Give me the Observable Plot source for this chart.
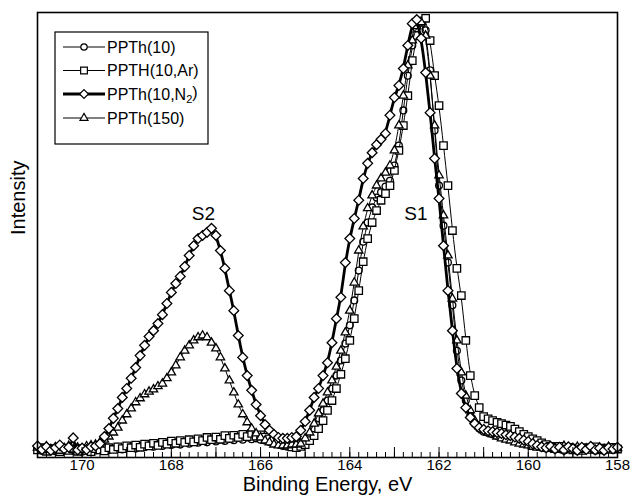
<!DOCTYPE html>
<html><head><meta charset="utf-8">
<script src="https://cdn.jsdelivr.net/npm/d3@7"></script>
<script src="https://cdn.jsdelivr.net/npm/@observablehq/plot@0.6"></script>
<style>body{margin:0;background:#fff}</style>
</head><body><div id="chart"></div>
<script>
const energy = [171.0,170.9,170.8,170.7,170.6,170.5,170.4,170.3,170.2,170.1,
170.0,169.9,169.8,169.7,169.6,169.5,169.4,169.3,169.2,169.1,
169.0,168.9,168.8,168.7,168.6,168.5,168.4,168.3,168.2,168.1,
168.0,167.9,167.8,167.7,167.6,167.5,167.4,167.3,167.2,167.1,
167.0,166.9,166.8,166.7,166.6,166.5,166.4,166.3,166.2,166.1,
166.0,165.9,165.8,165.7,165.6,165.5,165.4,165.3,165.2,165.1,
165.0,164.9,164.8,164.7,164.6,164.5,164.4,164.3,164.2,164.1,
164.0,163.9,163.8,163.7,163.6,163.5,163.4,163.3,163.2,163.1,
163.0,162.9,162.8,162.7,162.6,162.5,162.4,162.3,162.2,162.1,
162.0,161.9,161.8,161.7,161.6,161.5,161.4,161.3,161.2,161.1,
161.0,160.9,160.8,160.7,160.6,160.5,160.4,160.3,160.2,160.1,
160.0,159.9,159.8,159.7,159.6,159.5,159.4,159.3,159.2,159.1,
159.0,158.9,158.8,158.7,158.6,158.5,158.4,158.3,158.2,158.1,158.0];

const ppth10 = [2.1,1.5,2.3,1.7,1.4,2.0,1.6,2.2,1.5,1.9,
1.3,1.8,2.1,1.6,1.9,2.3,1.7,2.0,2.4,1.8,
2.2,2.5,2.0,2.6,2.3,2.8,2.4,3.0,2.6,3.1,
2.8,3.3,2.9,3.5,3.1,3.6,3.3,3.8,3.4,4.0,
3.6,4.1,3.7,4.2,3.9,4.4,4.0,4.5,4.1,4.3,
4.0,3.8,3.5,3.2,2.9,2.6,2.4,2.6,2.9,3.3,
3.8,4.9,6.5,8.8,10.6,12.8,15.5,18.4,21.8,25.6,
29.7,35.3,42.0,48.5,52.8,56.2,58.4,59.6,60.9,62.2,
65.6,70.1,78.0,85.8,92.6,96.4,98.2,96.0,87.0,73.5,
61.1,52.1,43.8,34.2,24.0,17.3,12.8,9.4,7.6,6.5,
5.8,5.5,5.2,4.9,4.7,4.5,4.3,3.9,3.6,3.2,
2.9,2.7,2.5,2.2,2.0,2.3,1.8,2.1,1.6,2.2,
1.9,1.5,2.0,1.7,2.2,1.6,2.0,1.5,1.9,1.7,2.0];

const ppthAr = [1.7,2.2,1.4,2.0,1.8,1.3,2.1,1.6,1.9,1.4,
2.0,1.6,1.3,2.0,1.7,1.5,2.2,1.8,2.4,2.0,
2.6,2.2,2.8,2.3,3.0,2.6,3.2,2.7,3.4,3.0,
3.7,3.2,3.8,3.4,4.0,3.5,4.2,3.8,4.5,4.0,
4.6,4.1,4.9,4.3,5.0,4.5,5.2,4.7,5.4,4.8,
5.1,4.6,4.2,3.9,3.4,3.0,2.7,2.4,2.2,2.5,
2.9,3.8,4.9,6.5,8.3,10.6,12.8,15.5,18.7,22.2,
26.3,31.2,37.5,44.0,49.2,52.8,55.5,57.8,59.3,61.1,
64.5,69.0,74.6,81.3,89.2,94.8,97.8,98.7,93.7,85.8,
79.1,70.1,61.1,51.0,42.5,36.4,26.3,18.4,13.9,11.2,
9.2,8.7,8.3,7.9,7.6,7.3,7.0,6.4,5.8,5.2,
4.7,4.2,3.8,3.3,2.9,2.5,2.2,2.5,1.9,2.3,
1.7,2.1,1.6,2.2,1.8,2.4,1.7,2.1,1.8,2.3,1.9];

const ppthN2 = [2.6,1.8,2.4,1.6,2.2,2.8,1.9,2.3,4.4,1.7,
2.1,1.8,2.4,2.6,3.1,4.7,6.5,8.8,11.0,13.5,
15.5,17.8,20.2,22.9,25.2,27.2,28.5,30.1,32.1,34.6,
37.1,39.1,40.7,42.9,45.4,47.6,49.2,49.9,50.6,51.5,
49.9,46.5,42.5,37.5,33.0,27.4,22.5,18.4,15.1,11.9,
9.4,7.4,6.1,5.2,4.5,4.3,4.3,4.5,4.7,6.1,
8.1,10.6,13.5,15.5,18.4,21.3,25.8,31.2,36.0,43.8,
49.2,53.7,57.8,62.7,66.1,68.5,70.3,71.5,72.8,76.9,
80.9,83.6,87.4,92.6,97.5,98.4,94.2,86.5,77.5,67.2,
58.2,47.6,37.5,28.5,20.0,14.4,11.2,9.0,7.6,6.7,
6.3,6.0,5.8,5.6,5.4,5.1,4.9,4.6,4.3,3.9,
3.6,3.1,2.7,2.4,2.2,2.5,1.9,2.3,1.7,2.4,
2.0,1.6,2.3,1.8,2.5,1.7,2.1,1.6,2.2,1.9,2.3];

const ppth150 = [2.2,1.6,2.5,1.9,2.3,1.5,2.1,2.6,1.8,2.2,
1.7,2.5,2.7,2.9,3.4,4.0,4.7,5.6,6.7,8.3,
9.7,11.0,12.4,13.3,14.2,14.8,15.3,16.0,16.6,17.8,
19.1,20.7,22.5,24.0,25.2,26.3,27.0,27.4,27.0,25.8,
24.5,22.5,20.0,17.3,14.6,11.9,9.7,7.9,6.5,5.4,
4.5,3.8,3.4,2.9,2.7,2.7,2.7,2.9,2.9,3.1,
4.3,5.6,7.6,9.9,12.1,14.6,17.3,20.4,24.0,28.1,
33.0,39.3,46.5,51.9,56.0,58.9,61.1,62.7,64.0,65.6,
69.0,74.6,81.3,88.1,93.7,96.9,97.8,94.8,85.8,74.6,
63.4,54.4,45.4,35.7,26.3,19.1,13.9,10.6,8.3,7.0,
6.1,5.6,5.2,4.7,4.3,4.0,3.8,3.4,3.1,2.9,
2.7,2.4,2.2,2.5,1.9,2.3,1.7,2.2,2.6,1.8,
2.1,2.4,1.7,2.0,2.3,1.6,2.2,1.9,2.4,1.8,2.1];

const xLabelTicks = [170,168,166,164,162,160,158];
const xMajorTicks = [171,170,169,168,167,166,165,164,163,162,161,160,159,158];
const peakLabels = ["S2","S1"];
const peakE = [167.28,162.52];
const peakI = [54.8,54.8];

const font = "Liberation Sans, Arial, Helvetica, sans-serif";
const rows = (vals) => energy.map((e,i) => ({E: e, I: vals[i]}));
const minorTicks = d3.range(158, 171.001, 0.2).map(v => +v.toFixed(1));

const series = [
  {name: "PPTh(10)", vals: ppth10, symbol: "circle", r: 3.4, lw: 1},
  {name: "PPTH(10,Ar)", vals: ppthAr, symbol: "square", r: 4.2, lw: 1},
  {name: "PPTh(150)", vals: ppth150, symbol: "triangle2", r: 4.0, lw: 1},
  {name: "PPTh(10,N2)", vals: ppthN2, symbol: "diamond2", r: 4.4, lw: 2.8}
];

const marks = [];
for (const s of series) {
  const d = rows(s.vals);
  marks.push(Plot.line(d, {x: "E", y: "I", curve: "basis", stroke: "black", strokeWidth: s.lw}));
  marks.push(Plot.dot(d, {x: "E", y: "I", symbol: s.symbol, r: s.r, fill: "white", stroke: "black", strokeWidth: 1.3}));
}

const chart = Plot.plot({
  width: 632, height: 502,
  marginLeft: 37, marginRight: 15, marginTop: 12, marginBottom: 45,
  style: {fontFamily: font, background: "white", color: "black"},
  x: {domain: [171, 158], axis: null},
  y: {domain: [0, 100], axis: null},
  marks: [
    ...marks,
    Plot.tickX(minorTicks, {x: d => d, insetTop: 440, stroke: "black", strokeWidth: 1}),
    Plot.tickX(xMajorTicks, {x: d => d, insetTop: 435, stroke: "black", strokeWidth: 1}),
    Plot.text(xLabelTicks, {x: d => d, text: d => String(d), frameAnchor: "bottom", dy: 12, fontSize: 15}),
    Plot.text(peakLabels, {x: (d,i) => peakE[i], y: (d,i) => peakI[i], text: d => d, fontSize: 19}),
    Plot.text(["Binding Energy, eV"], {frameAnchor: "bottom", dy: 33, fontSize: 20}),
    Plot.text(["Intensity"], {frameAnchor: "left", rotate: -90, dx: -19, fontSize: 20}),
    Plot.frame({stroke: "black", strokeWidth: 1.6})
  ]
});
document.getElementById("chart").appendChild(chart);

// legend inside the frame
const svg = d3.select(chart);
const lg = svg.append("g").attr("font-family", font).attr("font-size", 16).attr("text-anchor", "start");
lg.append("rect").attr("x", 55).attr("y", 32).attr("width", 153).attr("height", 112)
  .attr("fill", "white").attr("stroke", "black").attr("stroke-width", 1.2);
const legendOrder = [
  {label: "PPTh(10)", sym: d3.symbolCircle, r: 3.2, lw: 1},
  {label: "PPTH(10,Ar)", sym: d3.symbolSquare, r: 3.8, lw: 1},
  {label: "PPTh(10,N", sub: "2", tail: ")", sym: d3.symbolDiamond2, r: 4.0, lw: 2.8},
  {label: "PPTh(150)", sym: d3.symbolTriangle2, r: 3.8, lw: 1}
];
const rowY = [47, 70.5, 94, 118];
legendOrder.forEach((d, i) => {
  const y = rowY[i];
  lg.append("line").attr("x1", 63).attr("x2", 105).attr("y1", y).attr("y2", y)
    .attr("stroke", "black").attr("stroke-width", d.lw);
  lg.append("path").attr("d", d3.symbol(d.sym, Math.PI * d.r * d.r)())
    .attr("transform", `translate(84,${y})`).attr("fill", "white").attr("stroke", "black").attr("stroke-width", 1.2);
  const t = lg.append("text").attr("x", 107).attr("y", y).attr("dy", "0.35em").attr("text-anchor", "start");
  t.append("tspan").text(d.label);
  if (d.sub) {
    t.append("tspan").attr("font-size", 11).attr("dy", "0.35em").text(d.sub);
    t.append("tspan").attr("dy", "-0.35em").text(d.tail);
  }
});
</script>
</body></html>
